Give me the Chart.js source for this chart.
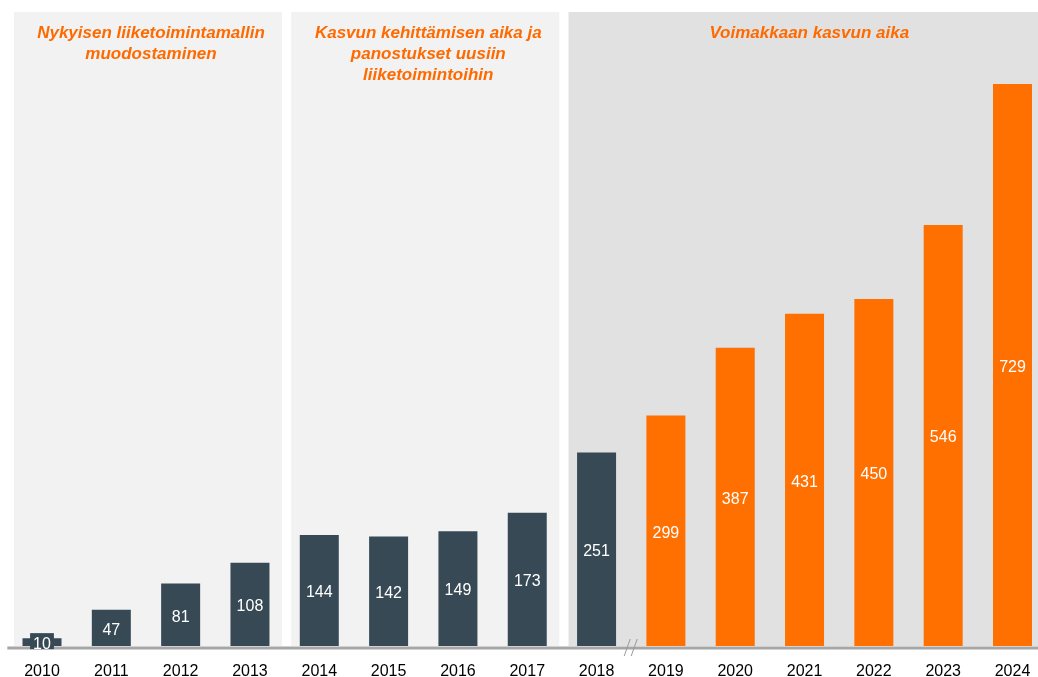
<!DOCTYPE html>
<html><head><meta charset="utf-8">
<script src="https://cdn.jsdelivr.net/npm/chart.js@4.4.1/dist/chart.umd.min.js"></script>
<style>html,body{margin:0;padding:0;background:#fff;overflow:hidden;}</style>
</head><body>
<canvas id="c" width="1038" height="677"></canvas>
<script>
// ---- data ----
const years = ['2010','2011','2012','2013','2014','2015','2016','2017','2018','2019','2020','2021','2022','2023','2024'];
const revenue = [10, 47, 81, 108, 144, 142, 149, 173, 251, 299, 387, 431, 450, 546, 729];
const phaseTitles = [
  ['Nykyisen liiketoimintamallin', 'muodostaminen'],
  ['Kasvun kehittämisen aika ja', 'panostukset uusiin', 'liiketoimintoihin'],
  ['Voimakkaan kasvun aika']
];
const phaseFirstYear = ['2010', '2014', '2018'];
const phaseLastYear = ['2013', '2017', '2024'];
const firstGrowthYear = '2019';

// ---- styles ----
const DARK = '#374955';
const ORANGE = '#ff7000';
const TITLE_ORANGE = '#ff6a00';
const phaseFills = ['#f2f2f2', '#f2f2f2', '#e1e1e1'];
const FONT = '"Liberation Sans", Arial, sans-serif';
const barColors = years.map(y => (+y >= +firstGrowthYear ? ORANGE : DARK));

const phasePlugin = {
  id: 'phases',
  beforeDatasetsDraw(chart) {
    const ctx = chart.ctx;
    const xs = chart.scales.x, ys = chart.scales.y;
    const step = xs.getPixelForValue(1) - xs.getPixelForValue(0);
    const base = ys.getPixelForValue(0);
    ctx.save();
    phaseTitles.forEach((lines, i) => {
      const i0 = years.indexOf(phaseFirstYear[i]);
      const i1 = years.indexOf(phaseLastYear[i]);
      const left = xs.getPixelForValue(i0) - 0.405 * step;
      const right = Math.min(chart.width, xs.getPixelForValue(i1) + 0.463 * step);
      const top = 12;
      ctx.fillStyle = phaseFills[i];
      ctx.fillRect(left, top, right - left, base - top);
      ctx.fillStyle = TITLE_ORANGE;
      ctx.font = 'italic bold 17px ' + FONT;
      ctx.textAlign = 'center';
      ctx.textBaseline = 'alphabetic';
      const cx = (left + right) / 2 + 3 + (i === 2 ? 3 : 0);
      lines.forEach((t, k) => ctx.fillText(t, cx, 38 + k * 21));
    });
    ctx.restore();
  },
  afterDatasetsDraw(chart) {
    const ctx = chart.ctx;
    const xs = chart.scales.x, ys = chart.scales.y;
    const step = xs.getPixelForValue(1) - xs.getPixelForValue(0);
    const base = ys.getPixelForValue(0);
    const meta = chart.getDatasetMeta(0);
    ctx.save();
    // baseline
    ctx.strokeStyle = '#a6a6a6';
    ctx.lineWidth = 3;
    ctx.beginPath();
    ctx.moveTo(xs.getPixelForValue(0) - 0.5 * step, base + 2);
    ctx.lineTo(chart.width, base + 2);
    ctx.stroke();
    // axis break marker between 2018 and 2019
    const bi = years.indexOf(firstGrowthYear);
    const bx = xs.getPixelForValue(bi - 0.5);
    ctx.strokeStyle = '#9a9a9a';
    ctx.lineWidth = 1;
    ctx.beginPath();
    ctx.moveTo(bx - 7, base + 10); ctx.lineTo(bx - 1, base - 7);
    ctx.moveTo(bx, base + 10); ctx.lineTo(bx + 6, base - 7);
    ctx.stroke();
    // value labels
    ctx.font = '16px ' + FONT;
    ctx.textAlign = 'center';
    ctx.textBaseline = 'middle';
    meta.data.forEach((el, i) => {
      const cy = (el.y + el.base) / 2 + 2.5;
      const txt = String(revenue[i]);
      const h = el.base - el.y;
      if (h < 18) {
        const w = ctx.measureText(txt).width + 6;
        ctx.fillStyle = barColors[i];
        ctx.fillRect(el.x - w / 2, cy - 11.5, w, 16);
      }
      ctx.fillStyle = '#ffffff';
      ctx.fillText(txt, el.x, cy);
    });
    ctx.restore();
  }
};

new Chart(document.getElementById('c'), {
  type: 'bar',
  data: {
    labels: years,
    datasets: [{
      data: revenue,
      backgroundColor: barColors,
      borderWidth: 0,
      categoryPercentage: 1,
      barPercentage: 0.5625,
      clip: false
    }]
  },
  options: {
    responsive: false,
    devicePixelRatio: 1,
    animation: false,
    layout: { padding: { left: 42, right: 25.5, top: 0, bottom: 0 } },
    plugins: { legend: { display: false }, tooltip: { enabled: false } },
    scales: {
      x: {
        offset: false,
        grid: { display: true, drawOnChartArea: false, drawTicks: true, tickLength: 16, color: 'rgba(0,0,0,0)' },
        border: { display: false },
        ticks: { color: '#000', font: { family: FONT, size: 16 }, padding: 0, maxRotation: 0, autoSkip: false },
        afterFit(axis) { axis.height = 31; }
      },
      y: { display: false, min: 0, max: 838 }
    }
  },
  plugins: [phasePlugin]
});
</script>
</body></html>
